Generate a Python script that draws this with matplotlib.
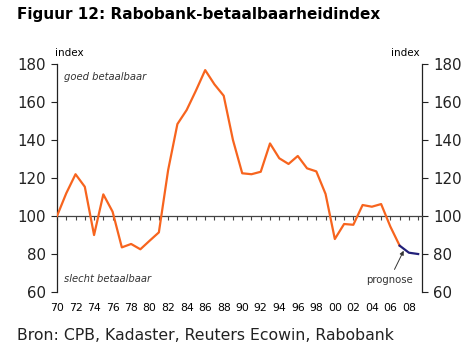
import matplotlib
matplotlib.use("Agg")
import matplotlib.pyplot as plt

# Index values, 1970-2009 (last three years are forecast)
years = list(range(1970, 2010))
index_values = [
    100.0, 112.0, 122.0, 115.4, 90.0, 111.4, 102.3, 83.5, 85.3, 82.5,
    87.0, 91.4, 124.2, 148.4, 155.8, 166.0, 176.8, 169.3, 163.3, 140.0,
    122.5, 122.0, 123.3, 138.2, 130.4, 127.4, 131.6, 125.1, 123.5, 111.6,
    87.9, 95.8, 95.4, 105.8, 104.9, 106.3, 94.4, 84.4, 80.7, 80.0,
]
forecast_start = 2007
year_ticks = list(range(1970, 2010, 2))
year_labels = [f"{y % 100:02d}" for y in year_ticks]
y_ticks = [60, 80, 100, 120, 140, 160, 180]

ORANGE = "#F7641E"
NAVY = "#22207A"

fig = plt.figure(figsize=(4.72, 3.51), dpi=100)
ax = fig.add_axes([0.1208, 0.168, 0.773, 0.6496])

split = years.index(forecast_start)
ax.plot(years[: split + 1], index_values[: split + 1], color=ORANGE, lw=1.6, zorder=3)
ax.plot(years[split:], index_values[split:], color=NAVY, lw=1.6, zorder=3)

ax.set_xlim(1970, 2009.4)
ax.set_ylim(60, 180)

# bottom spine doubles as the 100 baseline with yearly ticks
ax.spines["top"].set_visible(False)
ax.spines["bottom"].set_position(("data", 100))
ax.spines["bottom"].set_color("#444444")
ax.spines["bottom"].set_linewidth(0.9)
ax.set_xticks(years)
ax.tick_params(axis="x", direction="out", length=3, width=0.8, color="#444444", labelbottom=False)

for side in ("left", "right"):
    ax.spines[side].set_color("#222222")
    ax.spines[side].set_linewidth(0.9)
ax.set_yticks(y_ticks)
ax.tick_params(axis="y", direction="out", length=4, width=0.8, labelsize=10.8, pad=4,
               left=True, right=True, labelleft=True, labelright=True, colors="#222222")

sec = ax.secondary_xaxis(0)
sec.set_xticks(year_ticks)
sec.set_xticklabels(year_labels)
sec.tick_params(length=0, labelsize=7.8, pad=8)
sec.spines["bottom"].set_visible(False)

ax.text(-0.005, 1.025, "index", transform=ax.transAxes, fontsize=7.5, ha="left", va="bottom")
ax.text(0.995, 1.025, "index", transform=ax.transAxes, fontsize=7.5, ha="right", va="bottom")
ax.text(0.02, 0.945, "goed betaalbaar", transform=ax.transAxes, fontsize=7.2,
        style="italic", ha="left", va="center", color="#333333")
ax.text(0.02, 0.055, "slecht betaalbaar", transform=ax.transAxes, fontsize=7.2,
        style="italic", ha="left", va="center", color="#333333")
ax.annotate("prognose", xy=(2007.5, index_values[split] - 2), xytext=(2005.9, 66.5),
            fontsize=7.3, ha="center", va="center", color="#333333",
            arrowprops=dict(arrowstyle="-|>", color="#333333", lw=0.7, mutation_scale=6,
                            shrinkA=2, shrinkB=1))

fig.text(0.036, 0.958, "Figuur 12: Rabobank-betaalbaarheidindex", fontsize=11,
         fontweight="bold", ha="left", va="center")
fig.text(0.036, 0.045, "Bron: CPB, Kadaster, Reuters Ecowin, Rabobank", fontsize=11.3,
         ha="left", va="center", color="#222222")

fig.savefig("out.png", dpi=100)
